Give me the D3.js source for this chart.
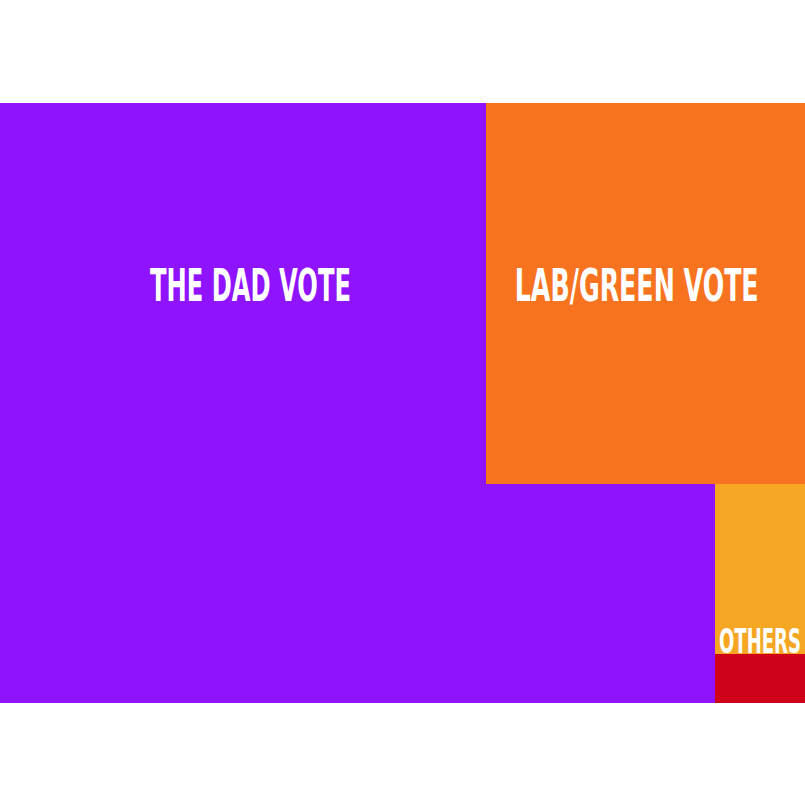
<!DOCTYPE html>
<html>
<head>
<meta charset="utf-8">
<script src="https://cdn.jsdelivr.net/npm/d3@7"></script>
<style>
  html, body { margin: 0; padding: 0; background: #ffffff; }
  svg { display: block; }
</style>
</head>
<body>
<div id="chart"></div>
<script>
// ---- data (share of total, %) ----
const names  = ["The Dad Vote", "Lab/Green Vote", "The Dad Vote (other)", "Others", "Others (minor)"];
const values = [60.37, 25.16, 10.38, 3.17, 0.91];
const colors = ["#9013FE", "#F7731F", "#9013FE", "#F5A623", "#D0021B"];
const labels = ["THE DAD VOTE", "LAB/GREEN VOTE", "", "OTHERS", ""];

// ---- layout / style ----
const W = 805, H = 806;
const margin = { top: 103, left: 0, right: 0, bottom: 103 };
const innerW = W - margin.left - margin.right;
const innerH = H - margin.top - margin.bottom;

// label styling per node (font size, target width, placement)
const labelStyle = [
  { size: 45, len: 201, mode: "center", dx: 7.5, baseline: 198 },
  { size: 45, len: 244, mode: "center", dx: -8.8, baseline: 198 },
  null,
  { size: 34, len: 82, mode: "bottom", dx: 0, baseline: -1 },
  null
];

const root = d3.hierarchy({ children: names.map((n, i) => ({ i, name: n, value: values[i] })) })
  .sum(d => d.value || 0)
  .sort((a, b) => b.value - a.value);

d3.treemap()
  .tile(d3.treemapSquarify)
  .size([innerW, innerH])
  .round(true)
  .paddingInner(0)(root);

const svg = d3.select("#chart").append("svg")
  .attr("width", W).attr("height", H);

const g = svg.append("g").attr("transform", `translate(${margin.left},${margin.top})`);

const cell = g.selectAll("g.cell").data(root.leaves()).join("g").attr("class", "cell");

cell.append("rect")
  .attr("x", d => d.x0).attr("y", d => d.y0)
  .attr("width", d => d.x1 - d.x0).attr("height", d => d.y1 - d.y0)
  .attr("fill", d => colors[d.data.i])
  .attr("shape-rendering", "crispEdges");

cell.filter(d => labels[d.data.i]).each(function(d) {
  const s = labelStyle[d.data.i];
  const cx = (d.x0 + d.x1) / 2 + s.dx;
  const by = s.mode === "bottom" ? d.y1 + s.baseline : d.y0 + s.baseline;
  const t = d3.select(this).append("text")
    .attr("text-anchor", "middle")
    .attr("fill", "#ffffff")
    .attr("font-family", "'Liberation Sans Narrow', 'DejaVu Sans Condensed', 'Roboto', sans-serif")
    .attr("font-weight", "bold")
    .attr("font-size", s.size)
    .text(labels[d.data.i]);
  // condense: fit natural width to target, then stretch vertically back to full height
  const w = t.node().getComputedTextLength();
  const fs = s.size * s.len / w;
  const ky = s.size / fs;
  t.attr("font-size", fs)
   .attr("x", 0).attr("y", 0)
   .attr("transform", `translate(${cx},${by}) scale(1,${ky})`);
});
</script>
</body>
</html>
